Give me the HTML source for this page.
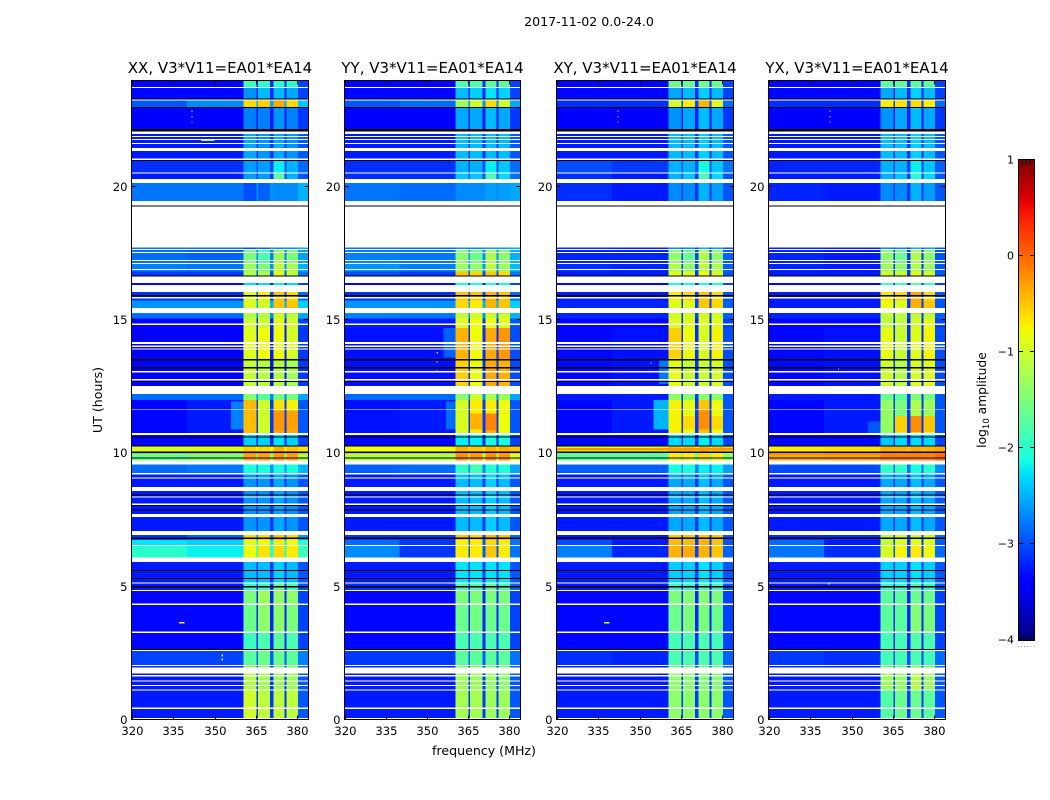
<!DOCTYPE html>
<html>
<head>
<meta charset="utf-8">
<title>2017-11-02 dynamic spectra</title>
<style>
html,body{margin:0;padding:0;background:#fff;}
svg{display:block;font-family:"DejaVu Sans","Liberation Sans",sans-serif;}
text{fill:#000;}
</style>
</head>
<body>
<svg id="chart" width="1050" height="800" viewBox="0 0 1050 800" xmlns="http://www.w3.org/2000/svg">
  <defs>
    <linearGradient id="jet-gradient" x1="0" y1="1" x2="0" y2="0"></linearGradient>
  </defs>
  <text x="589" y="26" font-size="12.6" text-anchor="middle">2017-11-02 0.0-24.0</text>
  <text x="102" y="400" font-size="12.6" text-anchor="middle" transform="rotate(-90 102 400)">UT (hours)</text>
  <text x="484" y="755" font-size="12.6" text-anchor="middle">frequency (MHz)</text>
  <text x="986" y="400" font-size="12.3" text-anchor="middle" transform="rotate(-90 986 400)">log<tspan font-size="8.5" dy="3">10</tspan><tspan dy="-3"> amplitude</tspan></text>
  <text x="1017" y="647" font-size="8" style="fill:#888;letter-spacing:0.6px">......</text>
</svg>
<script>
// ---- chart data ----
const panelTitles = ["XX, V3*V11=EA01*EA14", "YY, V3*V11=EA01*EA14", "XY, V3*V11=EA01*EA14", "YX, V3*V11=EA01*EA14"];
const freqTicks = [320, 335, 350, 365, 380];
const timeTicks = [0, 5, 10, 15, 20];
const colorTicks = [1, 0, -1, -2, -3, -4];
const colorMinorTicks = [0.97, 0.95, 0.93, -3.93, -3.95, -3.97];

// observation bands, hours, descending (one more edge than rows)
const timeEdges = [24, 23.7, 23.25, 22.97, 22.06, 21, 20.5, 20.14, 17.67, 17.15, 16.81, 16.4, 16.05, 15.74, 15.25, 15.05, 14.7, 13.55, 12.5, 12, 10.73, 10.25, 10.05, 9.74, 9.27, 7, 6.75, 6.53, 5.92, 5.14, 4.84, 4.32, 3.27, 2.6, 2, 1.1, 0];

// log10 amplitude per band: [below 340 MHz, 340-360 MHz, subband 1, subband 2, subband 3, subband 4]
const xxRows = [
[-3.35,-3.35,-1.9,-2.0,-2.0,-2.0],[-3.35,-3.35,-2.65,-2.45,-2.45,-2.55],[-2.95,-2.7,-0.6,-0.55,-0.35,-0.6],[-3.4,-3.4,-2.75,-2.75,-2.65,-2.75],
[-3.25,-3.25,-2.55,-2.65,-2.55,-2.65],[-3.15,-3.15,-2.6,-2.6,-2.2,-2.5],[-3.25,-3.25,-2.6,-2.6,-1.7,-2.5],[-2.8,-2.8,-3.0,-2.9,-2.7,-2.7],
[-2.85,-2.9,-1.5,-1.8,-1.3,-1.5],[-2.75,-2.8,-1.3,-1.5,-1.1,-1.2],[-3.1,-3.1,-1.2,-1.2,-0.9,-1.1],[-3.35,-3.35,-2.3,-2.3,-2.2,-2.3],
[-3.15,-3.15,-0.9,-0.7,-0.5,-0.6],[-2.65,-2.65,-0.9,-1.0,-0.5,-0.5],[-2.85,-2.85,-1.2,-1.2,-1.0,-1.1],[-3.35,-3.35,-1.0,-1.0,-0.85,-1.0],
[-3.4,-3.4,-0.9,-0.8,-0.8,-0.95],[-3.4,-3.4,-1.05,-1.15,-1.15,-1.25],[-2.85,-2.85,-1.4,-1.7,-1.5,-1.5],[-3.35,-3.25,-0.45,-1.0,-0.35,-0.35],
[-3.35,-3.35,-2.35,-2.35,-2.25,-2.35],[-0.95,-0.95,-0.55,-0.6,-0.4,-0.5],[-1.6,-1.5,-0.3,-0.3,-0.25,-0.3],[-2.85,-2.8,-2.1,-2.1,-2.1,-2.1],
[-3.25,-3.25,-2.65,-2.65,-2.55,-2.65],[-3.1,-2.9,-0.6,-0.6,-0.5,-0.6],[-2.25,-2.35,-0.85,-0.8,-0.7,-0.8],[-2.0,-2.2,-0.8,-0.65,-0.6,-0.7],
[-3.25,-3.25,-2.45,-2.45,-2.35,-2.45],[-3.25,-3.25,-1.95,-1.95,-1.65,-1.85],[-3.35,-3.35,-1.5,-1.3,-1.35,-1.4],[-3.35,-3.35,-1.6,-1.4,-1.4,-1.5],
[-3.35,-3.35,-1.9,-1.8,-1.7,-1.8],[-3.05,-3.05,-1.7,-1.6,-1.6,-1.7],[-3.25,-3.25,-1.15,-1.25,-1.3,-1.3],[-3.25,-3.25,-1.0,-1.1,-1.1,-1.1]
];
const yyRows = [
[-3.35,-3.35,-1.8,-1.8,-1.7,-1.7],[-3.35,-3.35,-2.45,-2.35,-2.25,-2.35],[-2.95,-2.85,-1.3,-1.0,-0.6,-1.0],[-3.4,-3.4,-2.55,-2.55,-2.45,-2.55],
[-3.25,-3.25,-2.45,-2.45,-2.45,-2.45],[-3.15,-3.15,-2.5,-2.5,-2.2,-2.4],[-3.15,-3.15,-2.4,-2.4,-1.8,-2.3],[-2.8,-2.85,-2.7,-2.7,-2.6,-2.6],
[-2.75,-2.8,-1.4,-1.6,-1.2,-1.4],[-2.65,-2.75,-1.3,-1.4,-1.1,-1.3],[-3.0,-3.1,-0.5,-0.6,-0.5,-0.6],[-3.35,-3.35,-2.1,-2.1,-2.1,-2.1],
[-3.15,-3.15,-0.5,-0.5,-0.4,-0.5],[-2.65,-2.65,-0.6,-0.7,-0.4,-0.5],[-2.75,-2.8,-1.1,-1.0,-1.0,-1.0],[-3.25,-3.25,-0.9,-0.8,-0.8,-0.9],
[-3.3,-3.3,-0.4,-0.8,-0.35,-0.25],[-3.3,-3.3,-0.55,-0.85,-0.35,-0.4],[-2.85,-2.85,-1.4,-1.0,-1.2,-1.3],[-3.3,-3.25,-0.95,-0.7,-0.4,-0.8],
[-3.35,-3.35,-2.2,-2.2,-2.1,-2.1],[-0.8,-0.8,-0.4,-0.5,-0.4,-0.4],[-1.2,-1.2,-0.2,-0.25,-0.2,-0.25],[-2.9,-2.85,-1.95,-1.85,-2.05,-2.05],
[-3.25,-3.25,-2.45,-2.45,-2.35,-2.45],[-3.1,-3.1,-0.5,-0.6,-0.4,-0.5],[-2.85,-3.1,-0.75,-0.7,-0.6,-0.7],[-2.7,-3.1,-0.7,-0.7,-0.5,-0.7],
[-3.25,-3.25,-2.25,-2.25,-2.25,-2.25],[-3.15,-3.15,-1.85,-1.85,-1.65,-1.85],[-3.35,-3.35,-1.5,-1.5,-1.5,-1.5],[-3.35,-3.35,-1.6,-1.55,-1.6,-1.6],
[-3.35,-3.35,-1.8,-1.8,-1.8,-1.8],[-3.1,-3.1,-1.7,-1.7,-1.7,-1.7],[-3.25,-3.25,-1.3,-1.3,-1.35,-1.4],[-3.25,-3.25,-1.25,-1.25,-1.3,-1.3]
];
const xyRows = [
[-3.35,-3.35,-1.6,-1.6,-1.6,-1.6],[-3.35,-3.35,-2.55,-2.45,-2.35,-2.45],[-3.15,-3.15,-1.0,-0.7,-0.4,-0.9],[-3.4,-3.4,-2.65,-2.55,-2.45,-2.55],
[-3.25,-3.25,-2.45,-2.45,-2.35,-2.45],[-3.0,-3.1,-2.5,-2.5,-2.1,-2.4],[-3.15,-3.25,-2.5,-2.4,-1.8,-2.3],[-3.15,-3.25,-2.7,-2.7,-2.5,-2.6],
[-3.2,-3.2,-1.4,-1.6,-1.2,-1.4],[-3.15,-3.2,-1.2,-1.4,-1.1,-1.2],[-3.25,-3.25,-0.9,-0.9,-0.8,-0.9],[-3.35,-3.35,-2.1,-2.1,-2.1,-2.1],
[-3.25,-3.25,-0.7,-0.6,-0.5,-0.6],[-3.2,-3.2,-0.9,-0.9,-0.5,-0.6],[-3.2,-3.2,-1.0,-1.0,-1.0,-1.0],[-3.35,-3.35,-0.9,-0.9,-0.9,-0.9],
[-3.35,-3.3,-0.55,-0.8,-0.95,-0.75],[-3.35,-3.3,-0.85,-1.05,-1.05,-0.95],[-3.25,-3.25,-1.4,-1.4,-1.4,-1.4],[-3.35,-3.25,-0.75,-0.85,-0.5,-0.8],
[-3.35,-3.35,-2.3,-2.3,-2.2,-2.3],[-0.9,-0.9,-0.45,-0.5,-0.4,-0.5],[-1.7,-1.7,-0.7,-0.7,-0.6,-0.7],[-2.9,-2.9,-2.1,-2.1,-2.2,-2.2],
[-3.25,-3.25,-2.55,-2.55,-2.45,-2.55],[-3.25,-3.25,-0.5,-0.5,-0.5,-0.5],[-3.0,-3.25,-0.45,-0.45,-0.4,-0.5],[-2.75,-3.2,-0.4,-0.35,-0.4,-0.5],
[-3.25,-3.25,-2.35,-2.35,-2.25,-2.35],[-3.25,-3.25,-1.95,-1.95,-1.85,-1.95],[-3.35,-3.35,-1.5,-1.45,-1.45,-1.5],[-3.35,-3.35,-1.6,-1.5,-1.5,-1.6],
[-3.35,-3.35,-1.85,-1.8,-1.8,-1.85],[-3.15,-3.2,-1.8,-1.8,-1.8,-1.8],[-3.25,-3.25,-1.4,-1.4,-1.45,-1.45],[-3.25,-3.25,-1.4,-1.4,-1.4,-1.4]
];
const yxRows = [
[-3.35,-3.35,-1.7,-1.7,-1.7,-1.7],[-3.35,-3.35,-2.55,-2.45,-2.35,-2.45],[-3.15,-3.15,-0.7,-0.65,-0.6,-0.7],[-3.4,-3.4,-2.65,-2.55,-2.45,-2.55],
[-3.25,-3.25,-2.45,-2.45,-2.35,-2.45],[-3.2,-3.2,-2.5,-2.5,-2.2,-2.4],[-3.25,-3.25,-2.5,-2.4,-2.0,-2.3],[-3.2,-3.25,-2.7,-2.7,-2.5,-2.6],
[-3.2,-3.25,-1.4,-1.6,-1.2,-1.4],[-3.2,-3.25,-1.3,-1.4,-1.2,-1.3],[-3.25,-3.25,-1.0,-1.0,-0.9,-1.0],[-3.35,-3.35,-1.9,-1.9,-1.7,-1.9],
[-3.25,-3.25,-0.65,-0.6,-0.35,-0.6],[-3.25,-3.25,-0.8,-0.9,-0.4,-0.5],[-3.2,-3.2,-1.1,-1.1,-1.1,-1.1],[-3.35,-3.35,-1.1,-1.1,-1.0,-0.85],
[-3.35,-3.3,-0.85,-1.05,-0.9,-0.75],[-3.35,-3.3,-1.0,-1.15,-0.95,-0.9],[-3.25,-3.25,-1.6,-1.7,-1.5,-1.5],[-3.35,-3.25,-1.35,-1.1,-0.6,-0.95],
[-3.35,-3.35,-2.4,-2.3,-2.3,-2.3],[-0.7,-0.65,-0.4,-0.4,-0.35,-0.4],[-0.35,-0.3,-0.15,-0.15,-0.15,-0.15],[-3.0,-3.0,-1.95,-1.95,-2.1,-2.0],
[-3.25,-3.25,-2.55,-2.55,-2.45,-2.55],[-3.15,-3.15,-1.1,-1.0,-1.0,-1.0],[-2.85,-3.25,-1.05,-0.9,-0.85,-0.9],[-2.8,-3.15,-0.95,-0.75,-0.7,-0.8],
[-3.25,-3.25,-2.35,-2.35,-2.25,-2.35],[-3.25,-3.25,-1.95,-2.0,-1.85,-1.95],[-3.35,-3.35,-1.7,-1.7,-1.6,-1.6],[-3.35,-3.35,-1.7,-1.7,-1.45,-1.5],
[-3.35,-3.35,-1.85,-1.85,-1.75,-1.8],[-3.1,-3.15,-1.85,-1.85,-1.8,-1.85],[-3.25,-3.25,-1.3,-1.35,-1.15,-1.3],[-3.25,-3.25,-1.75,-1.6,-1.6,-1.7]
];
const panelRows = [xxRows, yyRows, xyRows, yxRows];

// flagged time ranges, hours [start, end], all panels
const flaggedWhite = [[23.74,23.70],[23.27,23.23],[22.07,21.97],[21.90,21.86],[21.79,21.75],[21.64,21.60],[21.45,21.34],[21.05,21.00],[20.53,20.49],[20.29,20.14],[19.46,17.71],[17.66,17.62],[17.55,17.51],[17.25,17.21],[17.13,17.10],[16.91,16.87],[16.65,16.38],[16.31,16.05],[15.86,15.80],[15.45,15.26],[14.86,14.82],[14.17,14.10],[14.04,13.98],[13.94,13.90],[13.08,13.04],[12.78,12.74],[12.52,12.22],[11.67,11.64],[10.76,10.68],[9.74,9.59],[9.27,9.21],[9.09,9.05],[8.73,8.58],[8.39,8.34],[8.11,8.07],[7.72,7.61],[7.09,6.93],[6.57,6.53],[6.10,5.92],[5.16,5.12],[4.88,4.84],[4.36,4.32],[3.31,3.27],[2.63,2.58],[2.07,2.03],[1.96,1.75],[1.68,1.64],[1.49,1.45],[1.32,1.28],[1.15,1.11],[0.46,0.42],[0.08,0.04]];
const flaggedBlack = [[23.31,23.27],[22.99,22.95],[22.16,22.07],[21.0,20.96],[19.29,19.25],[16.66,16.63],[15.93,15.89],[13.53,13.48],[13.23,13.19],[12.71,12.67],[10.64,10.60],[10.29,10.25],[10.06,10.02],[9.84,9.80],[8.45,8.41],[8.07,8.03],[7.89,7.85],[6.84,6.78],[5.62,5.58],[5.33,5.29],[5.02,4.96],[2.67,2.63]];

// localised features: [panel index, start h, end h, low MHz, high MHz, log10 amplitude]
const localFeatures = [
[0,11.95,10.9,356,360.5,-2.75],[1,11.95,10.9,357,360.5,-2.85],[1,14.7,13.6,356,360.5,-2.9],[2,12,10.9,355,360.5,-2.5],[2,13.5,12.6,357,360.5,-2.8],[3,11.2,10.75,356,360.5,-2.95],
[0,12,11.6,371.4,375.4,-0.65],[0,12,11.6,376.2,380.3,-0.75],[0,11.6,10.85,371.4,375.4,-0.25],[0,11.6,10.85,376.2,380.3,-0.3],
[1,12,11.5,371.4,375.4,-0.7],[1,11.5,10.85,371.4,375.4,-0.15],[1,11.5,10.9,365.8,370.2,-0.4],
[2,11.6,10.9,371.4,375.4,-0.2],[2,11.4,10.9,365.8,370.2,-0.6],[2,11.4,10.9,376.2,380.3,-0.6],
[3,12,11.4,371.4,375.4,-1.2],[3,12,11.4,376.2,380.3,-1.3],[3,12,11.4,365.8,370.2,-1.5],[3,11.4,10.8,371.4,375.4,-0.2],[3,11.4,10.8,365.8,370.2,-0.55],[3,11.4,10.8,376.2,380.3,-0.5],
[0,3.68,3.62,337,339,-0.7],[0,2.45,2.38,352.5,353,-0.7],[0,2.3,2.24,352.5,353,-0.7],[0,22.85,22.8,341.6,342,-0.6],[0,22.65,22.6,341.6,342,-0.6],[0,22.45,22.4,341.6,342,-0.6],[0,21.75,21.72,345,350,-1.2],
[1,13.8,13.75,353.5,354,-1.6],[1,13.45,13.4,353.5,354,-1.6],[1,13.1,13.05,353.5,354,-1.6],
[2,22.85,22.8,342,342.4,-0.5],[2,22.65,22.6,342,342.4,-0.5],[2,22.45,22.4,342,342.4,-0.5],[2,3.68,3.62,337,339,-1.0],[2,13.4,13.35,354,354.4,-1.6],[2,13.1,13.05,354,354.4,-1.6],
[3,22.85,22.8,342,342.4,-0.5],[3,22.65,22.6,342,342.4,-0.5],[3,22.45,22.4,342,342.4,-0.5],[3,5.12,5.08,341.5,342,-1.0],[3,13.2,13.15,345,345.4,-1.4],
[0,10.06,10.0,320,384,-0.2],[1,10.06,10.0,320,384,-0.3],[2,10.2,10.1,320,384,-0.25],[3,10.0,9.95,320,384,-0.1]
];

// frequency columns in MHz, with the row column they read from (6 = gap, 7 = band edge)
const freqEdges = [320, 340, 360.5, 365.2, 365.8, 370.2, 371.4, 375.4, 376.2, 380.3, 384];
const freqColumnSource = [0, 1, 2, 6, 3, 6, 4, 6, 5, 7];

// ---- layout ----
const plotTop = 80, plotBottom = 720;
const plotLefts = [132, 345, 557, 769];
const plotRights = [308, 520, 733, 945];
const FMIN = 320, FMAX = 384, TMIN = 0, TMAX = 24, CMIN = -4, CMAX = 1;
const cbarLeft = 1019, cbarRight = 1034, cbarTop = 160, cbarBottom = 640;

const NS = "http://www.w3.org/2000/svg";
const svg = document.getElementById("chart");
function xScale(freq, p) { return plotLefts[p] + (freq - FMIN) * (plotRights[p] - plotLefts[p]) / (FMAX - FMIN); }
function yScale(hour) { return plotBottom - (hour - TMIN) * (plotBottom - plotTop) / (TMAX - TMIN); }
function cScale(v) { return cbarBottom - (v - CMIN) * (cbarBottom - cbarTop) / (CMAX - CMIN); }
function clamp01(v) { return Math.max(0, Math.min(1, v)); }
function ramp(n, a, va, b, vb) { return va + (vb - va) * clamp01((n - a) / (b - a)); }
function jet(v) {
  const n = clamp01((v - CMIN) / (CMAX - CMIN));
  const r = n < 0.89 ? ramp(n, 0.35, 0, 0.66, 1) : ramp(n, 0.89, 1, 1, 0.5);
  const g = n < 0.64 ? ramp(n, 0.125, 0, 0.375, 1) : ramp(n, 0.64, 1, 0.91, 0);
  const b = n < 0.34 ? ramp(n, 0, 0.5, 0.11, 1) : ramp(n, 0.34, 1, 0.65, 0);
  return "rgb(" + Math.round(r * 255) + "," + Math.round(g * 255) + "," + Math.round(b * 255) + ")";
}
function make(tag, parent) {
  const el = document.createElementNS(NS, tag);
  parent.appendChild(el);
  return el;
}
function box(parent, x0, x1, y0, y1, fill) {
  const r = make("rect", parent);
  r.setAttribute("x", x0);
  r.setAttribute("y", y0);
  r.setAttribute("width", Math.max(0, x1 - x0));
  r.setAttribute("height", Math.max(0, y1 - y0));
  r.setAttribute("fill", fill);
  r.setAttribute("shape-rendering", "crispEdges");
  return r;
}
function seg(parent, x1, y1, x2, y2) {
  const l = make("line", parent);
  l.setAttribute("x1", x1);
  l.setAttribute("y1", y1);
  l.setAttribute("x2", x2);
  l.setAttribute("y2", y2);
  l.setAttribute("stroke", "#000");
  l.setAttribute("stroke-width", "1");
  l.setAttribute("shape-rendering", "crispEdges");
  return l;
}
function label(parent, x, y, str, size, anchor) {
  const t = make("text", parent);
  t.setAttribute("x", x);
  t.setAttribute("y", y);
  t.setAttribute("font-size", size);
  t.setAttribute("text-anchor", anchor);
  t.textContent = str;
  return t;
}

panelRows.forEach(function (rows, p) {
  const g = make("g", svg);
  
  

  const cells = make("g", g);
  
  
  rows.forEach(function (row, i) {
    const gapValue = row[1] + 0.15;
    const edgeValue = row[1] + 0.3;
    const values = row.concat([gapValue, edgeValue]);
    freqColumnSource.forEach(function (src, c) {
      const cell = box(cells, xScale(freqEdges[c], p), xScale(freqEdges[c + 1], p), yScale(timeEdges[i]), yScale(timeEdges[i + 1]), jet(values[src]));
      
      
    });
  });

  localFeatures.filter(function (f) { return f[0] === p; }).forEach(function (f) {
    const mark = box(cells, xScale(f[3], p), xScale(f[4], p), yScale(f[1]), yScale(f[2]), jet(f[5]));
    
    
  });

  flaggedWhite.forEach(function (r) {
    const w = box(cells, xScale(FMIN, p), xScale(FMAX, p), yScale(r[0]), yScale(r[1]), "#fff");
    
    
  });
  flaggedBlack.forEach(function (r) {
    const k = box(cells, xScale(FMIN, p), xScale(FMAX, p), yScale(r[0]), yScale(r[1]), "#000");
    
    
  });

  const left = plotLefts[p] - 0.5, right = plotRights[p] + 0.5, top = plotTop + 0.5, bottom = plotBottom - 0.5;
  const frame = make("rect", g);
  
  
  frame.setAttribute("x", left);
  frame.setAttribute("y", top);
  frame.setAttribute("width", right - left);
  frame.setAttribute("height", bottom - top);
  frame.setAttribute("fill", "none");
  frame.setAttribute("stroke", "#000");
  frame.setAttribute("shape-rendering", "crispEdges");

  freqTicks.forEach(function (f) {
    const x = Math.round(xScale(f, p)) + 0.5;
    seg(g, x, bottom, x, bottom - 4);
    seg(g, x, top, x, top + 4);
    const t = label(g, x, 735, String(f), 11.6, "middle");
    
    
  });
  timeTicks.forEach(function (h) {
    const y = Math.round(yScale(h)) - 0.5;
    seg(g, left, y, left + 4, y);
    seg(g, right, y, right - 4, y);
    const t = label(g, left - 4, y + 4.5, String(h), 11.6, "end");
    
    
  });

  const title = label(g, (left + right) / 2, 73, panelTitles[p], 15, "middle");
  
  
});

// colorbar
const grad = document.getElementById("jet-gradient");
for (let v = CMIN; v <= CMAX + 1e-9; v += 0.125) {
  const stop = make("stop", grad);
  stop.setAttribute("offset", ((v - CMIN) / (CMAX - CMIN)).toFixed(4));
  stop.setAttribute("stop-color", jet(v));
}
const cbar = make("g", svg);


const cbarFill = box(cbar, cbarLeft, cbarRight, cbarTop, cbarBottom, "url(#jet-gradient)");


const cbarFrame = make("rect", cbar);


cbarFrame.setAttribute("x", cbarLeft - 0.5);
cbarFrame.setAttribute("y", cbarTop - 0.5);
cbarFrame.setAttribute("width", cbarRight - cbarLeft + 1);
cbarFrame.setAttribute("height", cbarBottom - cbarTop + 1);
cbarFrame.setAttribute("fill", "none");
cbarFrame.setAttribute("stroke", "#000");
cbarFrame.setAttribute("shape-rendering", "crispEdges");
colorTicks.forEach(function (v) {
  const y = Math.round(cScale(v)) - 0.5;
  seg(cbar, cbarLeft, y, cbarLeft + 4, y);
  seg(cbar, cbarRight, y, cbarRight - 4, y);
  const str = v < 0 ? "\u2212" + Math.abs(v) : String(v);
  const t = label(cbar, cbarLeft - 5, y + 4, str, 11, "end");
  
  
});
colorMinorTicks.forEach(function (v, i) {
  const isTop = v > 0;
  const x = cbarLeft + 3.5 + (i % 3) * 3.5;
  const yEnd = isTop ? cbarTop : cbarBottom;
  seg(cbar, x, yEnd, x, yEnd + (isTop ? 5 : -5));
});
</script>
</body>
</html>
